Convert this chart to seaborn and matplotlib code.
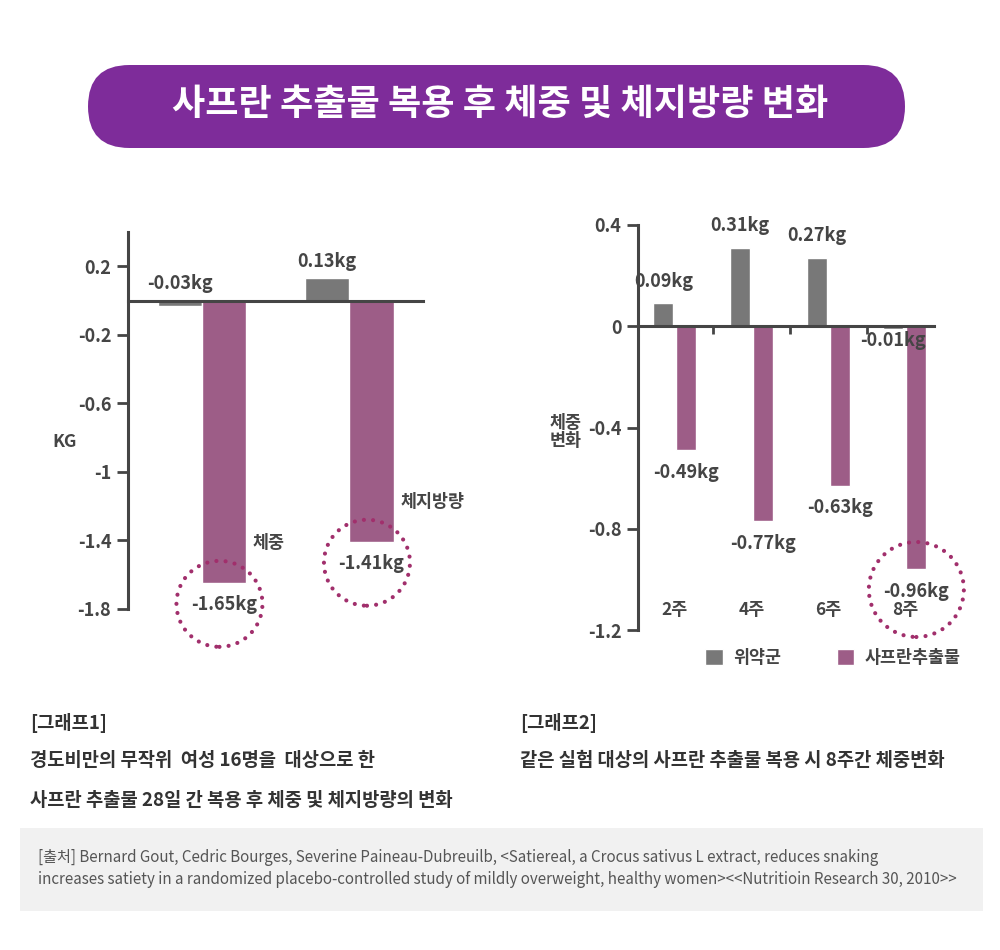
import pandas as pd
import matplotlib.pyplot as plt
import seaborn as sns
from matplotlib.patches import FancyBboxPatch, Circle, Rectangle
from matplotlib.transforms import ScaledTranslation

# 데이터
groups = ['위약군', '사프란추출물']

cats1 = ['체중', '체지방량']
placebo1 = [-0.03, 0.13]
saffron1 = [-1.65, -1.41]
ticks1 = [0.2, -0.2, -0.6, -1, -1.4, -1.8]
tick_labels1 = ['0.2', '-0.2', '-0.6', '-1', '-1.4', '-1.8']

weeks = ['2주', '4주', '6주', '8주']
placebo2 = [0.09, 0.31, 0.27, -0.01]
saffron2 = [-0.49, -0.77, -0.63, -0.96]
ticks2 = [0.4, 0, -0.4, -0.8, -1.2]
tick_labels2 = ['0.4', '0', '-0.4', '-0.8', '-1.2']

GRAY = '#787878'
PURPLE = '#9d5d87'
DOT = '#a12f6c'
TEXT = '#454545'

df1 = pd.DataFrame({'cat': cats1 * 2,
                    'group': [groups[0]] * 2 + [groups[1]] * 2,
                    'val': placebo1 + saffron1})
df2 = pd.DataFrame({'week': weeks * 2,
                    'group': [groups[0]] * 4 + [groups[1]] * 4,
                    'val': placebo2 + saffron2})

sns.set_theme(style='ticks')
plt.rcParams['font.family'] = ['Noto Sans CJK KR', 'DejaVu Sans']

fig = plt.figure(figsize=(10, 9.5), dpi=100)

# 배경 (픽셀 좌표)
bg = fig.add_axes([0, 0, 1, 1])
bg.set_xlim(0, 1000)
bg.set_ylim(950, 0)
bg.axis('off')
bg.add_patch(FancyBboxPatch((88, 65), 817, 83, boxstyle='round,pad=0,rounding_size=41.5',
                            fc='#7e2c9a', ec='none'))
bg.text(500, 105, '사프란 추출물 복용 후 체중 및 체지방량 변화', color='white',
        fontsize=26, fontweight='bold', ha='center', va='center')


def px_axes(x0, y0, x1, y1):
    return fig.add_axes([x0 / 1000, 1 - y1 / 950, (x1 - x0) / 1000, (y1 - y0) / 950])


def ring(ax, x, y, r_px):
    tr = fig.dpi_scale_trans + ScaledTranslation(x, y, ax.transData)
    ax.add_patch(Circle((0, 0), r_px / 100, transform=tr, fill=False, ec=DOT, lw=3,
                        linestyle=(0, (0.01, 2.2)), capstyle='round', clip_on=False))


# 그래프1
ax1 = px_axes(128, 232, 423, 609)
sns.barplot(data=df1, x='cat', y='val', hue='group', palette=[GRAY, PURPLE], width=0.6,
            gap=0, saturation=1, errorbar=None, legend=False, ax=ax1)
ax1.set_xlim(-0.5, 1.5)
ax1.set_ylim(-1.8, 0.4)
ax1.set_yticks(ticks1)
ax1.set_yticklabels(tick_labels1)
ax1.set_xticks([])

# 그래프2
ax2 = px_axes(638, 225, 934, 630)
sns.barplot(data=df2, x='week', y='val', hue='group', palette=[GRAY, PURPLE], width=0.6,
            gap=0.13, saturation=1, errorbar=None, ax=ax2)
ax2.set_xlim(-0.48, 3.38)
ax2.set_ylim(-1.2, 0.4)
ax2.set_yticks(ticks2)
ax2.set_yticklabels(tick_labels2)
ax2.set_xticks([0.5, 1.5, 2.5])
ax2.set_xticklabels([])
ax2.tick_params(axis='x', length=6, width=2, color=TEXT, direction='out')

for ax in (ax1, ax2):
    ax.set_facecolor('none')
    ax.spines[['top', 'right']].set_visible(False)
    ax.spines['left'].set(color=TEXT, linewidth=2.2)
    ax.spines['bottom'].set(color=TEXT, linewidth=2.2)
    ax.spines['bottom'].set_position(('data', 0))
    ax.set_xlabel('')
    ax.set_ylabel('')
    ax.tick_params(axis='y', length=8, width=2, color=TEXT, labelcolor=TEXT, labelsize=13, pad=4)
    for t in ax.get_yticklabels():
        t.set_fontweight('bold')

lbl = dict(color=TEXT, fontsize=13, fontweight='bold', ha='center')

for i, v in enumerate(placebo1):
    ax1.text(i - 0.15, max(v, 0) + 0.045, f'{v:.2f}kg', va='bottom', **lbl)
for i, v in enumerate(saffron1):
    ax1.text(i + 0.15, v - 0.07, f'{v:.2f}kg', va='top', **lbl)
    ax1.text(i + 0.345, v + 0.235, cats1[i], color=TEXT, fontsize=12.5, fontweight='bold',
             ha='left', va='center')
    ring(ax1, i + 0.12, v - 0.12, 43)

for i, v in enumerate(placebo2):
    if v >= 0:
        ax2.text(i - 0.15, v + 0.05, f'{v:.2f}kg', va='bottom', **lbl)
    else:
        ax2.text(i - 0.15, v - 0.01, f'{v:.2f}kg', va='top', **lbl)
for i, v in enumerate(saffron2):
    ax2.text(i + 0.15, v - 0.05, f'{v:.2f}kg', va='top', **lbl)
    ax2.text(i, -1.12, weeks[i], color=TEXT, fontsize=12.5, fontweight='bold',
             ha='center', va='center')
ring(ax2, 3 + 0.15, saffron2[-1] - 0.08, 47.5)

h, l = ax2.get_legend_handles_labels()
ax2.legend(h, l, ncol=2, frameon=False, loc='center',
           bbox_to_anchor=(833 / 1000, 1 - 658 / 950), bbox_transform=fig.transFigure,
           handlelength=1.0, handleheight=1.0, handletextpad=0.6, columnspacing=3.2,
           prop={'size': 12.5, 'weight': 'bold'}, labelcolor=TEXT)

bg.text(65, 442, 'KG', ha='center', va='center', fontsize=12.5, fontweight='bold', color=TEXT)
bg.text(566, 432, '체중\n변화', ha='center', va='center', fontsize=12.5, fontweight='bold',
        color=TEXT, linespacing=1.05)

# 설명
cap = dict(color='#333333', fontsize=13.5, fontweight='bold', ha='left', va='center')
bg.text(30, 723, '[그래프1]', **cap)
bg.text(30, 760, '경도비만의 무작위  여성 16명을  대상으로 한', **cap)
bg.text(30, 800, '사프란 추출물 28일 간 복용 후 체중 및 체지방량의 변화', **cap)
bg.text(520, 723, '[그래프2]', **cap)
bg.text(520, 760, '같은 실험 대상의 사프란 추출물 복용 시 8주간 체중변화', **cap)

# 출처
bg.add_patch(Rectangle((20, 828), 963, 83, fc='#f1f1f1', ec='none'))
src = dict(color='#555555', fontsize=10.9, ha='left', va='center')
bg.text(38, 858, '[출처] Bernard Gout, Cedric Bourges, Severine Paineau-Dubreuilb, <Satiereal, a Crocus sativus L extract, reduces snaking', **src)
bg.text(38, 880, 'increases satiety in a randomized placebo-controlled study of mildly overweight, healthy women><<Nutritioin Research 30, 2010>>', **src)

plt.savefig('out.png', dpi=100)
plt.close()
